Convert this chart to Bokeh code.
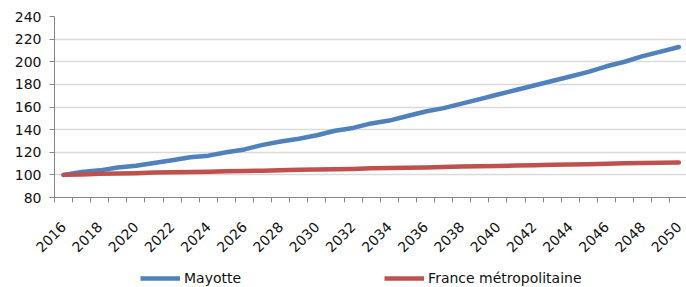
from bokeh.plotting import figure
from bokeh.models import FixedTicker, Legend, LegendItem, Range1d
from bokeh.layouts import column
from bokeh.embed import file_html
from bokeh.resources import INLINE
import math

years = list(range(2016, 2051))
mayotte = [100, 102.5, 104, 106.5, 108, 110.5, 113, 115.5, 117, 120,
           122.5, 126.5, 129.5, 132, 135, 139, 141.5, 145.5, 148, 152,
           156, 159, 163, 167, 171, 175, 179, 183, 187, 191,
           196, 200, 205, 209, 213]
france = [100, 100.3, 101, 101.3, 101.5, 102, 102.3, 102.5, 102.8, 103.2,
          103.5, 103.7, 104, 104.5, 104.8, 105, 105.3, 105.8, 106, 106.3,
          106.5, 107, 107.3, 107.6, 107.9, 108.3, 108.6, 108.9, 109.2, 109.5,
          109.8, 110.2, 110.5, 110.8, 111]
label_years = list(range(2016, 2051, 2))
y_ticks = list(range(80, 241, 20))

FONT = "DejaVu Sans"
BLUE = "#4f81bd"
RED = "#c0504d"

p = figure(width=686, height=259, output_backend="svg", toolbar_location=None,
           x_range=Range1d(2015.5, 2050.42), y_range=Range1d(80, 240),
           min_border_left=54, min_border_right=0, min_border_top=16,
           min_border_bottom=62)
p.outline_line_color = None
p.xgrid.grid_line_color = None
p.ygrid.grid_line_color = "#d9d9d9"
p.ygrid.grid_line_width = 1.5

p.line(years, mayotte, line_color=BLUE, line_width=4.5, line_cap="round", line_join="round")
p.line(years, france, line_color=RED, line_width=4.5, line_cap="round", line_join="round")

p.xaxis.ticker = FixedTicker(ticks=label_years, minor_ticks=[y - 0.5 for y in range(2016, 2052)])
p.xaxis.major_tick_line_color = None
p.xaxis.major_tick_out = 0
p.xaxis.minor_tick_out = 5
p.xaxis.minor_tick_in = 0
p.xaxis.minor_tick_line_color = "#868686"
p.xaxis.axis_line_color = "#868686"
p.xaxis.major_label_orientation = math.pi / 4
p.xaxis.major_label_standoff = 22

p.yaxis.ticker = FixedTicker(ticks=y_ticks)
p.yaxis.minor_tick_line_color = None
p.yaxis.major_tick_out = 5
p.yaxis.major_tick_in = 0
p.yaxis.major_tick_line_color = "#868686"
p.yaxis.axis_line_color = "#868686"
p.yaxis.major_label_standoff = 8

for ax in (p.xaxis, p.yaxis):
    ax.major_label_text_font = FONT
    ax.major_label_text_font_size = "14px"
    ax.major_label_text_color = "#111111"

# legend strip
q = figure(width=686, height=28, output_backend="svg", toolbar_location=None,
           x_range=Range1d(0, 1), y_range=Range1d(0, 1),
           min_border_left=0, min_border_right=0, min_border_top=0, min_border_bottom=0)
q.axis.visible = False
q.grid.visible = False
q.outline_line_color = None
r1 = q.line(years, mayotte, line_color=BLUE, line_width=4.5)
r2 = q.line(years, france, line_color=RED, line_width=4.5)
legend = Legend(items=[LegendItem(label="Mayotte", renderers=[r1]),
                       LegendItem(label="France métropolitaine", renderers=[r2])],
                orientation="horizontal", location=(86, -1),
                label_text_font=FONT, label_text_font_size="14px",
                label_text_color="#111111", glyph_width=40, label_standoff=4,
                spacing=143, border_line_color=None, background_fill_alpha=0,
                padding=0, margin=0)
q.add_layout(legend, "center")

layout = column(p, q, spacing=0)
open("out.html", "w").write(file_html(layout, INLINE))
